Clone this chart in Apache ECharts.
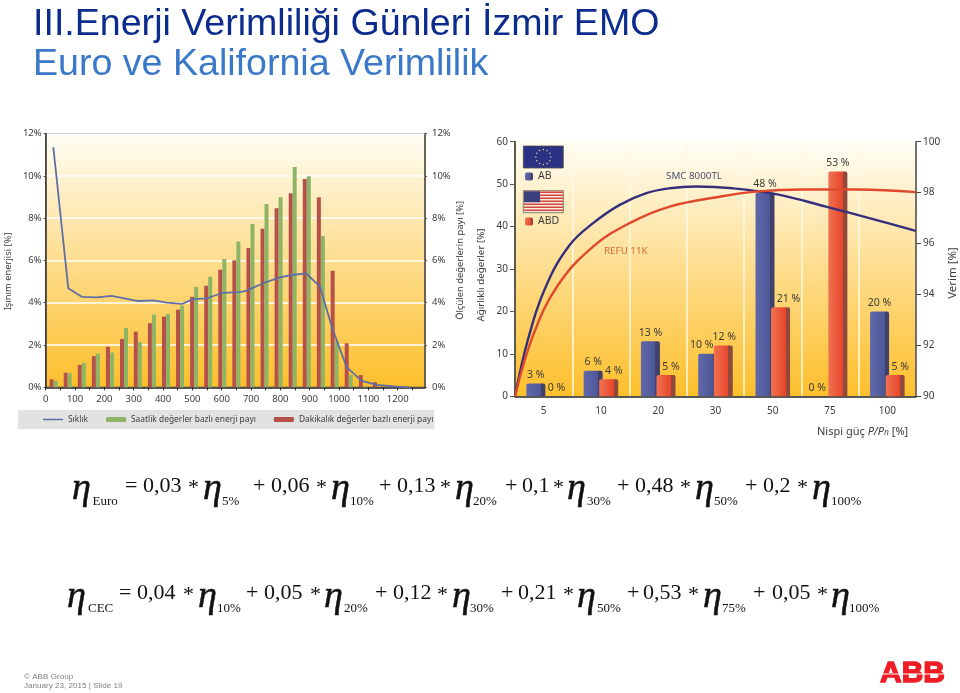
<!DOCTYPE html>
<html>
<head>
<meta charset="utf-8">
<title>Euro ve Kalifornia Verimlilik</title>
<script src="https://cdn.jsdelivr.net/npm/echarts@6/dist/echarts.min.js"></script>
<style>
html, body { margin: 0; padding: 0; background: #fff; }
#chart { width: 960px; height: 693px; }
</style>
</head>
<body>
<div id="chart"></div>
<script>
// left chart: irradiance histogram
const binCentres = [27,75,123,171,219,267,314,362,410,458,506,554,602,650,698,746,794,842,890,938,985,1033,1081,1129,1177];
const hourlyShare = [0.31,0.67,1.16,1.6,1.64,2.8,2.14,3.44,3.47,3.86,4.75,5.23,6.07,6.89,7.72,8.67,8.98,10.42,9.98,7.15,2.2,0.58,0.05,0,0];
const minuteShare = [0.38,0.69,1.06,1.47,1.92,2.28,2.63,3.03,3.34,3.67,4.28,4.8,5.56,6.0,6.59,7.5,8.46,9.17,9.85,8.98,5.51,2.08,0.58,0.24,0.08];
const freqX = [26,77,123,174,225,264,315,366,413,464,503,549,600,662,685,741,798,839,888,935,975,1026,1077,1129,1197,1242];
const freqY = [11.35,4.68,4.28,4.25,4.32,4.22,4.08,4.11,4.0,3.94,4.17,4.2,4.46,4.5,4.57,4.92,5.2,5.31,5.39,4.76,2.87,0.95,0.3,0.11,0.03,0];
const wattLabels = [0,100,200,300,400,500,600,700,800,900,1000,1100,1200];
const wattTicks = [0,50,100,150,200,250,300,350,400,450,500,550,600,650,700,750,800,850,900,950,1000,1050,1100,1150,1200,1250];

// right chart: inverter efficiency and weights
const powerSteps = ['5','10','20','30','50','75','100'];
const euWeights = [3,6,13,10,48,0,20];
const usWeights = [0,4,5,12,21,53,5];
const smcX = [0,0.232,0.552,0.958,1.363,1.828,2.293,2.7,3.163,3.8,4.557,5.427,6.298,6.995];
const smcY = [90,92.28,94.38,95.95,96.8,97.52,97.98,98.17,98.24,98.17,97.94,97.45,96.93,96.5];
const refuX = [0,0.319,0.754,1.363,2,2.7,3.57,4.208,5.02,6,6.995];
const refuY = [90,92.41,94.38,95.88,96.8,97.45,97.84,98.04,98.12,98.12,98.02];

// equations under the charts
const euroFactors = ['0,03','0,06','0,13','0,1','0,48','0,2'];
const euroSubs = ['5%','10%','20%','30%','50%','100%'];
const cecFactors = ['0,04','0,05','0,12','0,21','0,53','0,05'];
const cecSubs = ['10%','20%','30%','50%','75%','100%'];

const chart = echarts.init(document.getElementById('chart'));
const chartFont = '"Noto Sans", sans-serif';
const serif = '"Liberation Serif", serif';
const ink = '#3b3b38';
const axisBrown = '#5e5a4a';
// thin line swatch for the legend, the two dots keep the icon box full height
const lineIcon = 'path://M0,0L0.01,0L0,0ZM0,35L100,35L100,65L0,65ZM0,100L0.01,100L0,100Z';

function plotBackground() {
    return new echarts.graphic.LinearGradient(0, 0, 0, 1, [
        { offset: 0, color: '#fffef6' },
        { offset: 0.5, color: '#fedd8e' },
        { offset: 1, color: '#fdbf2b' }
    ]);
}
function barFill(light, mid, dark) {
    return new echarts.graphic.LinearGradient(0, 0, 1, 0, [
        { offset: 0, color: light },
        { offset: 0.76, color: mid },
        { offset: 0.77, color: dark },
        { offset: 1, color: dark }
    ]);
}
function zip(xs, ys) {
    return xs.map((x, i) => [x, ys[i]]);
}
function weightItems(values, nudges) {
    return values.map((v, i) => ({
        value: v,
        label: { offset: [nudges[i], 0] }
    }));
}

// one equation row: text is placed term by term as on the slide
function equation(leadSub, factors, subs, pos) {
    const out = [];
    function put(text, x, y, size) {
        out.push({
            type: 'text', x: x, y: y, silent: true,
            style: {
                text: text, fill: '#111',
                font: size + 'px ' + serif,
                align: 'left', verticalAlign: 'middle'
            }
        });
    }
    function eta(x) {
        out.push({
            type: 'text', x: x, y: pos.etaY, silent: true,
            style: {
                text: 'η', fill: '#111', stroke: '#111', lineWidth: 0.5,
                font: 'italic 38px ' + serif,
                align: 'left', verticalAlign: 'middle'
            }
        });
    }
    eta(pos.leadX);
    put(leadSub, pos.leadSubX, pos.subY, 13);
    put('=', pos.eqX, pos.numY, 22);
    factors.forEach((f, i) => {
        if (i > 0) put('+', pos.plus[i - 1], pos.numY, 22);
        put(f, pos.num[i], pos.numY, 22);
        put('*', pos.star[i], pos.numY + 2, 22);
        eta(pos.eta[i]);
        put(subs[i], pos.sub[i], pos.subY, 13);
    });
    return out;
}

const euStars = [];
for (let i = 0; i < 12; i++) {
    const a = i / 12 * Math.PI * 2;
    euStars.push({
        type: 'circle', silent: true,
        shape: { cx: 543.3 + Math.cos(a) * 7.5, cy: 157 + Math.sin(a) * 7.5, r: 0.7 },
        style: { fill: '#f5e27a' }
    });
}
const usStripes = [];
for (let i = 0; i < 7; i++) {
    usStripes.push({
        type: 'rect', silent: true,
        shape: { x: 524, y: 191.5 + i * 3, width: 39, height: 1.5 },
        style: { fill: '#d5453f' }
    });
}

const decorations = [
    // EU flag
    { type: 'rect', silent: true, shape: { x: 523.3, y: 146, width: 40, height: 22 }, style: { fill: '#2b3184', stroke: '#55523f', lineWidth: 0.8 } },
    ...euStars,
    // US flag
    { type: 'rect', silent: true, shape: { x: 523.3, y: 190.7, width: 40, height: 22 }, style: { fill: '#f6ecdc', stroke: '#6b5a45', lineWidth: 0.8 } },
    ...usStripes,
    { type: 'rect', silent: true, shape: { x: 524, y: 191.3, width: 16, height: 11 }, style: { fill: '#3b3f7c' } },
    // curve names
    { type: 'text', x: 666, y: 176, silent: true, style: { text: 'SMC 8000TL', font: '9.8px ' + chartFont, fill: '#4c4f70', verticalAlign: 'middle' } },
    { type: 'text', x: 604, y: 251, silent: true, style: { text: 'REFU 11K', font: '9.8px ' + chartFont, fill: '#d2693a', verticalAlign: 'middle' } },
    // x axis title of the right chart
    {
        type: 'text', x: 817, y: 432, silent: true,
        style: {
            text: '{a|Nispi güç }{i|P/P}{s|n}{a| [%]}', verticalAlign: 'middle',
            rich: {
                a: { font: '11px ' + chartFont, fill: ink },
                i: { font: 'italic 11px ' + chartFont, fill: ink },
                s: { font: 'italic 8.5px ' + chartFont, fill: ink, verticalAlign: 'bottom' }
            }
        }
    },
    ...equation('Euro', euroFactors, euroSubs, {
        leadX: 72, leadSubX: 92.5, eqX: 125, etaY: 489, numY: 486, subY: 502,
        num: [143, 271, 397, 522, 635, 763],
        star: [188, 316, 440, 553, 680, 797],
        eta: [203, 331, 455, 567, 695, 812],
        sub: [222, 350, 473, 587, 714, 831],
        plus: [253, 379, 505, 617, 745]
    }),
    ...equation('CEC', cecFactors, cecSubs, {
        leadX: 67, leadSubX: 88, eqX: 119, etaY: 597, numY: 593, subY: 609,
        num: [137, 264, 393, 518, 643, 772],
        star: [183, 310, 437, 563, 688, 817],
        eta: [198, 324, 452, 577, 703, 831],
        sub: [217, 344, 470, 597, 722, 849],
        plus: [246, 375, 501, 627, 753]
    }),
    // footer
    { type: 'text', x: 24, y: 677, silent: true, style: { text: '© ABB Group', font: '8.1px "Liberation Sans", sans-serif', fill: '#808080', verticalAlign: 'middle' } },
    { type: 'text', x: 24, y: 686, silent: true, style: { text: 'January 23, 2015 | Slide 19', font: '8.1px "Liberation Sans", sans-serif', fill: '#808080', verticalAlign: 'middle' } },
    // ABB logo
    { type: 'text', x: 880, y: 674, silent: true, style: { text: 'ABB', font: 'bold 30px "Liberation Sans", sans-serif', fill: '#ee1c25', stroke: '#ee1c25', lineWidth: 1.4, verticalAlign: 'middle' } },
    { type: 'rect', silent: true, shape: { x: 878, y: 673.5, width: 68, height: 1 }, style: { fill: '#fff' } }
].map(el => ({ z: 10, ...el }));

const option = {
    animation: false,
    backgroundColor: '#fff',
    textStyle: { fontFamily: chartFont, color: ink },
    title: [{
        text: 'III.Enerji Verimliliği Günleri İzmir EMO',
        left: 33, top: 6, padding: 0,
        textStyle: { fontFamily: '"Liberation Sans", Arial, sans-serif', fontSize: 37.6, fontWeight: 'normal', color: '#0b2c8c' }
    }, {
        text: 'Euro ve Kalifornia Verimlilik',
        left: 33, top: 46, padding: 0,
        textStyle: { fontFamily: '"Liberation Sans", Arial, sans-serif', fontSize: 37.6, fontWeight: 'normal', color: '#3a78c8' }
    }],
    legend: [{
        left: 18, top: 410, padding: [5.5, 1, 5.5, 25], itemGap: 18, itemWidth: 20, itemHeight: 5,
        symbolKeepAspect: false,
        backgroundColor: '#e2e2e2',
        textStyle: { fontFamily: chartFont, fontSize: 8.4, color: ink },
        data: [
            { name: 'Sıklık', icon: lineIcon },
            'Saatlik değerler bazlı enerji payı',
            'Dakikalık değerler bazlı enerji payı'
        ]
    }, {
        left: 525, top: 171, padding: 0, itemWidth: 8, itemHeight: 8, icon: 'roundRect',
        textStyle: { fontFamily: chartFont, fontSize: 10.5, color: ink },
        data: ['AB']
    }, {
        left: 525, top: 216, padding: 0, itemWidth: 8, itemHeight: 8, icon: 'roundRect',
        textStyle: { fontFamily: chartFont, fontSize: 10.5, color: ink },
        data: ['ABD']
    }],
    grid: [{
        left: 45.7, top: 133.5, width: 379.3, height: 253.8,
        show: true, backgroundColor: plotBackground(), borderColor: '#3e3e3a', borderWidth: 1.2
    }, {
        left: 515, top: 141.7, width: 402.3, height: 254.6,
        show: true, backgroundColor: plotBackground(), borderWidth: 0
    }],
    xAxis: [{
        gridIndex: 0, type: 'value', min: 0, max: 1293,
        splitLine: { show: false },
        axisLine: { lineStyle: { color: '#222', width: 1.5 } },
        axisTick: { length: 3, lineStyle: { color: '#222' }, customValues: wattTicks },
        axisLabel: { customValues: wattLabels, formatter: v => String(v), fontSize: 9.5, color: ink, margin: 7 }
    }, {
        gridIndex: 1, type: 'category', data: powerSteps,
        axisLine: { lineStyle: { color: '#222', width: 1.5 } },
        axisTick: { length: 5, lineStyle: { color: axisBrown } },
        axisLabel: { fontSize: 10, color: ink, margin: 10 },
        splitLine: { show: true, lineStyle: { color: '#fff8e4', width: 1.5 } }
    }, {
        gridIndex: 1, type: 'value', min: 0, max: 7, show: false
    }],
    yAxis: [{
        gridIndex: 0, type: 'value', min: 0, max: 12, interval: 2,
        name: 'Işınım enerjisi [%]', nameLocation: 'middle', nameGap: 33, nameRotate: 90,
        nameTextStyle: { fontSize: 9.4, color: ink, padding: [0, 22, 0, 0] },
        axisLine: { show: true, lineStyle: { color: '#3e3e3a', width: 1.5 } },
        axisTick: { show: true, length: 2, lineStyle: { color: '#3e3e3a' } },
        axisLabel: { formatter: '{value}%', fontSize: 9.5, color: ink, margin: 4 },
        splitLine: { lineStyle: { color: '#fff', width: 1.6 } }
    }, {
        gridIndex: 0, type: 'value', min: 0, max: 12, interval: 2, position: 'right',
        name: 'Ölçülen değerlerin payı [%]', nameLocation: 'middle', nameGap: 31, nameRotate: 90,
        nameTextStyle: { fontSize: 9.4, color: ink },
        axisLine: { show: true, lineStyle: { color: axisBrown, width: 1.5 } },
        axisTick: { show: true, length: 2, lineStyle: { color: axisBrown } },
        axisLabel: { formatter: '{value}%', fontSize: 9.5, color: ink, margin: 7 },
        splitLine: { show: false }
    }, {
        gridIndex: 1, type: 'value', min: 0, max: 60, interval: 10,
        name: 'Ağırlıklı değerler [%]', nameLocation: 'middle', nameGap: 29, nameRotate: 90,
        nameTextStyle: { fontSize: 9.8, color: ink, padding: [0, 12, 0, 0] },
        axisLine: { show: true, lineStyle: { color: axisBrown, width: 2 } },
        axisTick: { show: true, length: 5, lineStyle: { color: axisBrown } },
        axisLabel: { fontSize: 10, color: ink, margin: 7 },
        splitLine: { show: false }
    }, {
        gridIndex: 1, type: 'value', min: 90, max: 100, interval: 2, position: 'right',
        name: 'Verim [%]', nameLocation: 'middle', nameGap: 31, nameRotate: 90,
        nameTextStyle: { fontSize: 11.5, color: ink, padding: [0, 8, 0, 0] },
        axisLine: { show: true, lineStyle: { color: '#444', width: 1.5 } },
        axisTick: { show: true, length: 5, lineStyle: { color: '#444' } },
        axisLabel: { fontSize: 10, color: ink, margin: 7 },
        splitLine: { show: false }
    }],
    series: [{
        name: 'Sıklık', type: 'line', xAxisIndex: 0, yAxisIndex: 0, z: 5,
        data: zip(freqX, freqY), showSymbol: false, symbol: 'none',
        lineStyle: { color: '#5f6ea6', width: 1.8 }, itemStyle: { color: '#5f6ea6' }
    }, {
        name: 'Dakikalık değerler bazlı enerji payı', type: 'bar', xAxisIndex: 0, yAxisIndex: 0,
        data: zip(binCentres, minuteShare), barWidth: 4, barGap: 0,
        itemStyle: { color: '#b5504a' }
    }, {
        name: 'Saatlik değerler bazlı enerji payı', type: 'bar', xAxisIndex: 0, yAxisIndex: 0,
        data: zip(binCentres, hourlyShare), barWidth: 4, barGap: 0,
        itemStyle: { color: '#8db565' }
    }, {
        name: 'AB', type: 'bar', xAxisIndex: 1, yAxisIndex: 2, barWidth: 19, barGap: '-18%',
        data: weightItems(euWeights, [0, 0, 0, -6, 0, -5, 0]),
        itemStyle: { color: barFill('#5f68aa', '#4e5796', '#40406a'), borderRadius: [2, 2, 0, 0] },
        label: { show: true, position: 'top', formatter: '{c} %', fontSize: 10.5, color: ink, distance: 3 }
    }, {
        name: 'ABD', type: 'bar', xAxisIndex: 1, yAxisIndex: 2, barWidth: 19, barGap: '-18%',
        data: weightItems(usWeights, [5, 5, 5, 1, 8, 0, 5]),
        itemStyle: { color: barFill('#ef7350', '#e8452c', '#8f4a3c'), borderRadius: [2, 2, 0, 0] },
        label: { show: true, position: 'top', formatter: '{c} %', fontSize: 10.5, color: ink, distance: 3 }
    }, {
        name: 'SMC 8000TL', type: 'line', xAxisIndex: 2, yAxisIndex: 3, z: 6,
        data: zip(smcX, smcY), smooth: 0.4, showSymbol: false, symbol: 'none',
        lineStyle: { color: '#352f7c', width: 2.4 }
    }, {
        name: 'REFU 11K', type: 'line', xAxisIndex: 2, yAxisIndex: 3, z: 6,
        data: zip(refuX, refuY), smooth: 0.4, showSymbol: false, symbol: 'none',
        lineStyle: { color: '#e0482c', width: 2.4 }
    }],
    graphic: decorations
};

chart.setOption(option);
</script>
</body>
</html>
